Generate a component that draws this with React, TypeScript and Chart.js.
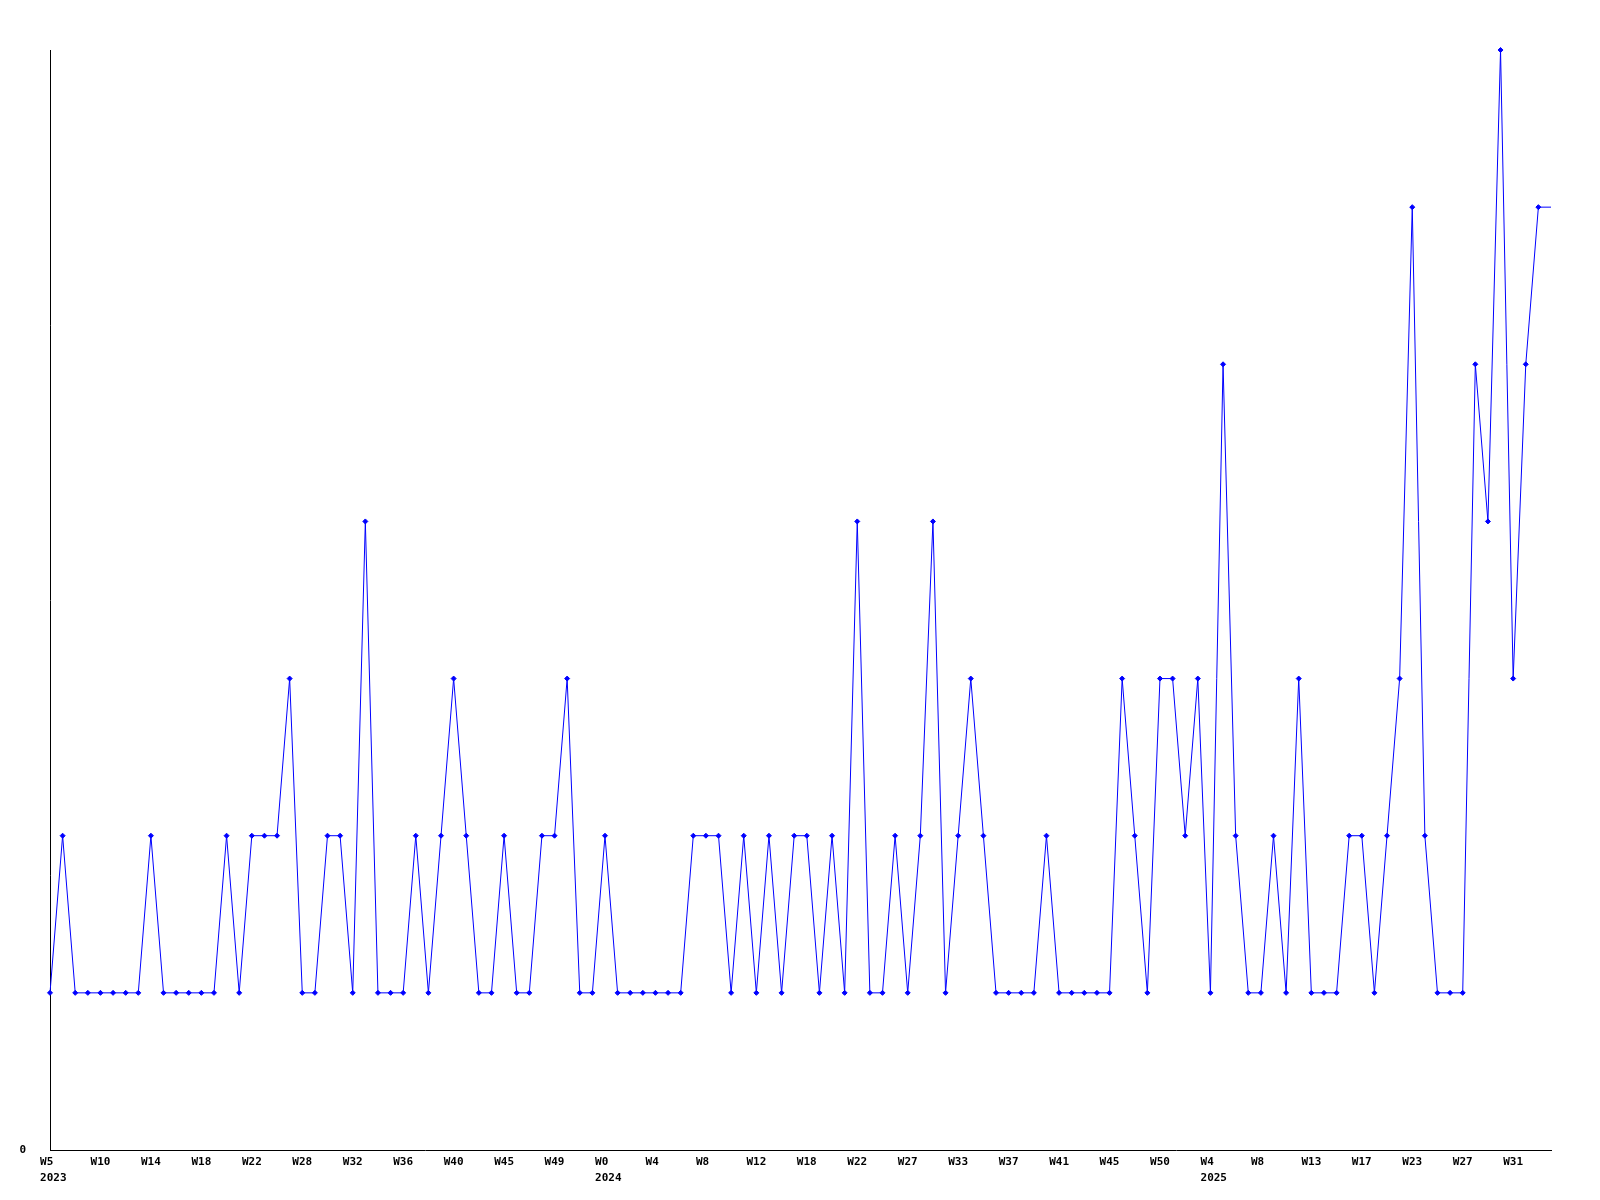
import React, { useEffect, useRef } from "react";
import { Chart, registerables } from "chart.js";

Chart.register(...registerables);

// Weekly values (one per week, last entry is the partial current week)
const values: number[] = [
  1, 2, 1, 1, 1, 1, 1, 1, 2, 1,
  1, 1, 1, 1, 2, 1, 2, 2, 2, 3,
  1, 1, 2, 2, 1, 4, 1, 1, 1, 2,
  1, 2, 3, 2, 1, 1, 2, 1, 1, 2,
  2, 3, 1, 1, 2, 1, 1, 1, 1, 1,
  1, 2, 2, 2, 1, 2, 1, 2, 1, 2,
  2, 1, 2, 1, 4, 1, 1, 2, 1, 2,
  4, 1, 2, 3, 2, 1, 1, 1, 1, 2,
  1, 1, 1, 1, 1, 3, 2, 1, 3, 3,
  2, 3, 1, 5, 2, 1, 1, 2, 1, 3,
  1, 1, 1, 2, 2, 1, 2, 3, 6, 2,
  1, 1, 1, 5, 4, 7, 3, 5, 6, 6,
];

// Week tick labels, shown every 4th week
const weekTicks: string[] = [
  "W5", "W10", "W14", "W18", "W22", "W28", "W32", "W36", "W40", "W45",
  "W49", "W0", "W4", "W8", "W12", "W18", "W22", "W27", "W33", "W37",
  "W41", "W45", "W50", "W4", "W8", "W13", "W17", "W23", "W27", "W31",
];
const tickEvery = 4;

const yearLabels: string[] = ["2023", "2024", "2025"];
const yearIndices: number[] = [0, 44, 92];

const yMin = 0;
const yMax = 7;

const FONT = '"DejaVu Sans Mono", "Liberation Mono", monospace';

export default function App() {
  const ref = useRef<HTMLCanvasElement | null>(null);

  useEffect(() => {
    if (!ref.current) return;
    // pad to a fixed 3-character cell so labels start at the same offset left of the tick
    const labels = values.map((_, i) => {
      const t = i % tickEvery === 0 ? weekTicks[i / tickEvery] : undefined;
      return t !== undefined ? t.padEnd(3, " ") : "";
    });
    const last = values.length - 1;

    const yearPlugin = {
      id: "yearLabels",
      afterDraw(chart: any) {
        const ctx = chart.ctx;
        const xs = chart.scales.x;
        ctx.save();
        ctx.font = `bold 11px ${FONT}`;
        ctx.fillStyle = "#000";
        ctx.textAlign = "left";
        ctx.textBaseline = "middle";
        yearIndices.forEach((idx, k) => {
          const px = xs.getPixelForValue(idx);
          const w = ctx.measureText(labels[idx]).width;
          ctx.fillText(yearLabels[k], px - w / 2, xs.top + 28);
        });
        ctx.restore();
      },
    };

    const chart = new Chart(ref.current, {
      type: "line",
      data: {
        labels,
        datasets: [
          {
            data: values,
            borderColor: "#0000ff",
            backgroundColor: "#0000ff",
            borderWidth: 1,
            pointStyle: "rectRot",
            pointRadius: (c: any) => (c.dataIndex === last ? 0 : 2.5),
            pointBorderWidth: 1,
            pointBorderColor: "#0000ff",
            pointBackgroundColor: "#0000ff",
            tension: 0,
            fill: false,
            clip: false,
          },
        ],
      },
      options: {
        animation: false,
        responsive: false,
        devicePixelRatio: 1,
        events: [],
        layout: { padding: { top: 50, right: 49, left: 0, bottom: 0 } },
        plugins: {
          legend: { display: false },
          tooltip: { enabled: false },
        },
        scales: {
          x: {
            offset: false,
            grid: { display: false, drawTicks: false },
            border: { display: true, color: "#000", width: 1 },
            ticks: {
              autoSkip: false,
              maxRotation: 0,
              minRotation: 0,
              padding: 6,
              color: "#000",
              font: { family: FONT, size: 11, weight: "bold" },
            },
            afterFit(scale: any) {
              scale.height = 50;
            },
          },
          y: {
            min: yMin,
            max: yMax,
            grid: { display: false, drawTicks: false },
            border: { display: true, color: "#000", width: 1 },
            ticks: {
              stepSize: 1,
              padding: 24,
              color: "#000",
              font: { family: FONT, size: 11, weight: "bold" },
              callback: (v: any) => (v === 0 ? "0" : ""),
            },
            afterFit(scale: any) {
              scale.width = 50;
            },
          },
        },
      },
      plugins: [yearPlugin],
    } as any);

    return () => chart.destroy();
  }, []);

  return (
    <div style={{ position: "absolute", left: 0, top: 0, width: 1600, height: 1200, background: "#fff" }}>
      <canvas ref={ref} width={1600} height={1200} style={{ width: 1600, height: 1200, display: "block" }} />
    </div>
  );
}
